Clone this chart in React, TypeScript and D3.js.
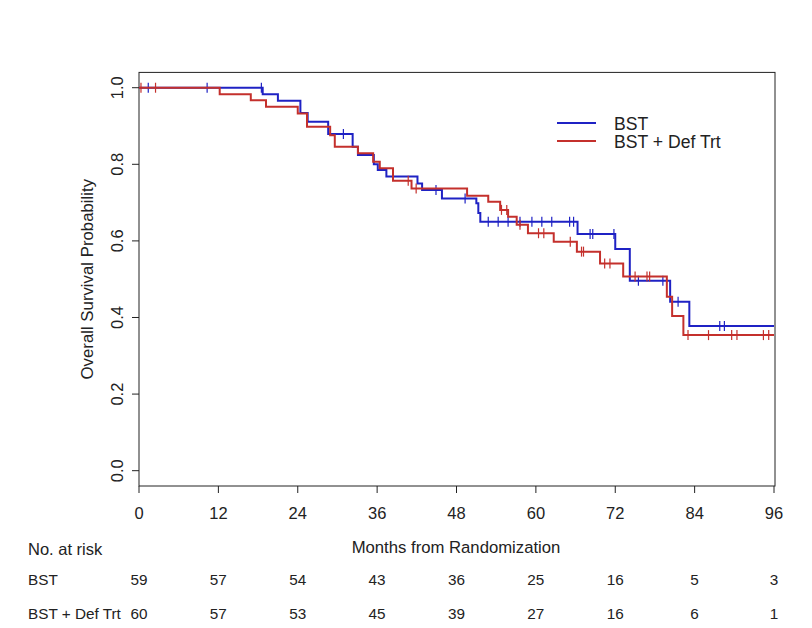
import * as d3 from "d3";

// Kaplan-Meier steps: [month, survival probability]
const bstSteps: [number, number][] = [
  [0, 1.0],
  [18.7, 0.983],
  [21.0, 0.966],
  [24.4, 0.934],
  [25.5, 0.911],
  [28.6, 0.879],
  [32.3, 0.846],
  [33.1, 0.824],
  [35.5, 0.8],
  [36.1, 0.785],
  [37.4, 0.768],
  [42.1, 0.75],
  [42.8, 0.733],
  [45.8, 0.711],
  [51.0, 0.698],
  [51.3, 0.673],
  [51.6, 0.65],
  [66.3, 0.618],
  [72.0, 0.579],
  [74.2, 0.496],
  [80.3, 0.441],
  [83.2, 0.378],
];

const defSteps: [number, number][] = [
  [0, 1.0],
  [12.2, 0.983],
  [16.9, 0.967],
  [19.2, 0.95],
  [24.0, 0.933],
  [25.4, 0.898],
  [28.9, 0.876],
  [29.6, 0.846],
  [33.1, 0.829],
  [35.4, 0.807],
  [36.4, 0.79],
  [38.4, 0.757],
  [41.2, 0.737],
  [49.6, 0.718],
  [52.8, 0.702],
  [54.6, 0.681],
  [55.8, 0.663],
  [57.1, 0.642],
  [58.8, 0.62],
  [62.7, 0.598],
  [66.2, 0.572],
  [69.7, 0.541],
  [73.2, 0.507],
  [79.8, 0.454],
  [80.6, 0.404],
  [82.3, 0.354],
];

// censoring times (months)
const bstCensor = [
  1.4, 10.3, 18.5, 30.9, 44.9, 49.3, 52.8, 54.3, 55.8, 57.6, 59.4, 60.9, 62.4,
  65.1, 65.7, 68.2, 68.6, 71.8, 75.5, 79.2, 81.5, 87.8, 88.5,
];
const defCensor = [
  0.3, 2.5, 40.7, 41.9, 54.8, 55.6, 57.6, 60.4, 61.2, 65.2, 66.9, 67.2, 70.4,
  71.2, 75.0, 76.8, 77.2, 83.0, 86.1, 89.6, 90.4, 94.4, 95.2,
];

const monthTicks = [0, 12, 24, 36, 48, 60, 72, 84, 96];
const probTicks = [0, 0.2, 0.4, 0.6, 0.8, 1.0];
const bstAtRisk = [59, 57, 54, 43, 36, 25, 16, 5, 3];
const defAtRisk = [60, 57, 53, 45, 39, 27, 16, 6, 1];

const seriesNames = ["BST", "BST + Def Trt"];
const BLUE = "#1f22c4";
const RED = "#c4302c";
const FONT = "'Liberation Sans', Arial, sans-serif";

const W = 812;
const H = 628;
const xMax = 96;

const x = d3.scaleLinear().domain([0, xMax]).range([139, 774]);
const y = d3.scaleLinear().domain([-0.04, 1.04]).range([486, 72.4]);

function survAt(steps: [number, number][], t: number) {
  let s = steps[0][1];
  for (const [m, v] of steps) {
    if (m <= t) s = v;
  }
  return s;
}

function KMCurve({
  steps,
  censor,
  color,
}: {
  steps: [number, number][];
  censor: number[];
  color: string;
}) {
  const pts: [number, number][] = [...steps, [xMax, steps[steps.length - 1][1]]];
  const line = d3
    .line<[number, number]>()
    .x((d) => x(d[0]))
    .y((d) => y(d[1]))
    .curve(d3.curveStepAfter);
  return (
    <g>
      <path d={line(pts) ?? ""} fill="none" stroke={color} strokeWidth={2} />
      {censor.map((t, i) => {
        const cy = y(survAt(steps, t));
        return (
          <line
            key={i}
            x1={x(t)}
            x2={x(t)}
            y1={cy - 5}
            y2={cy + 5}
            stroke={color}
            strokeWidth={1.2}
          />
        );
      })}
    </g>
  );
}

export default function App() {
  const [x0, x1] = x.range();
  const [yb, yt] = y.range();
  return (
    <div style={{ position: "fixed", left: 0, top: 0 }}>
      <svg width={W} height={H} viewBox={`0 0 ${W} ${H}`} style={{ display: "block", background: "#fff" }}>
        <rect x={0} y={0} width={W} height={H} fill="#fff" />
        <g fontFamily={FONT} fill="#222">
          {/* plot box */}
          <rect x={x0} y={yt} width={x1 - x0 + 1} height={yb - yt} fill="none" stroke="#222" strokeWidth={1} />

          {/* x axis */}
          {monthTicks.map((m) => (
            <g key={m} transform={`translate(${x(m)},${yb})`}>
              <line y1={0} y2={7} stroke="#222" />
              <text y={33} textAnchor="middle" fontSize={16.5}>
                {m}
              </text>
            </g>
          ))}
          <text x={456} y={553} textAnchor="middle" fontSize={16.7}>
            Months from Randomization
          </text>

          {/* y axis */}
          {probTicks.map((p) => (
            <g key={p} transform={`translate(${x0},${y(p)})`}>
              <line x1={0} x2={-7} stroke="#222" />
              <text
                transform="translate(-16,0) rotate(-90)"
                textAnchor="middle"
                fontSize={16.5}
              >
                {d3.format(".1f")(p)}
              </text>
            </g>
          ))}
          <text
            transform={`translate(93,${(yt + yb) / 2}) rotate(-90)`}
            textAnchor="middle"
            fontSize={16.8}
          >
            Overall Survival Probability
          </text>

          {/* curves */}
          <KMCurve steps={bstSteps} censor={bstCensor} color={BLUE} />
          <KMCurve steps={defSteps} censor={defCensor} color={RED} />

          {/* legend */}
          <line x1={557} x2={596} y1={123} y2={123} stroke={BLUE} strokeWidth={2} />
          <line x1={557} x2={596} y1={141} y2={141} stroke={RED} strokeWidth={2} />
          <text x={614} y={129.5} fontSize={17.6}>
            {seriesNames[0]}
          </text>
          <text x={614} y={148} fontSize={17.6}>
            {seriesNames[1]}
          </text>

          {/* number at risk table */}
          <text x={28} y={555} fontSize={16.5}>
            No. at risk
          </text>
          <text x={28} y={584.5} fontSize={15.3}>
            {seriesNames[0]}
          </text>
          <text x={28} y={618.5} fontSize={15.3}>
            {seriesNames[1]}
          </text>
          {monthTicks.map((m, i) => (
            <g key={m}>
              <text x={x(m)} y={584.5} textAnchor="middle" fontSize={15.3}>
                {bstAtRisk[i]}
              </text>
              <text x={x(m)} y={618.5} textAnchor="middle" fontSize={15.3}>
                {defAtRisk[i]}
              </text>
            </g>
          ))}
        </g>
      </svg>
    </div>
  );
}
